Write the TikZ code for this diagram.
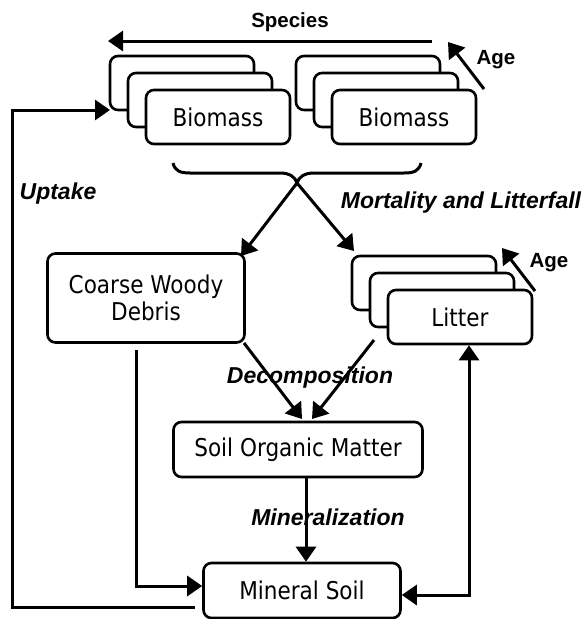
\documentclass[tikz,border=0pt]{standalone}
\usepackage{fontspec}
\setmainfont{DejaVu Sans}
\newfontfamily\labfont{Liberation Sans}
\usetikzlibrary{arrows.meta}
\newcommand{\bx}[1]{\scalebox{0.88}[1]{#1}}
\begin{document}
\begin{tikzpicture}[x=1pt,y=-1pt,
  box/.style={draw, line width=2.6pt, rounded corners=8pt, fill=white,
    minimum width=144pt, minimum height=54pt, inner sep=0pt, align=center,
    font=\fontsize{24.5}{27}\selectfont},
  arr/.style={line width=3pt, -{Triangle[length=15pt,width=20pt]}},
  darr/.style={line width=3pt, {Triangle[length=15pt,width=20pt]}-{Triangle[length=15pt,width=20pt]}},
  lab/.style={font=\labfont\bfseries\itshape\fontsize{23}{26}\selectfont, inner sep=0pt},
  hdr/.style={font=\labfont\bfseries\fontsize{20.5}{24}\selectfont, inner sep=0pt}]
\useasboundingbox (0,0) rectangle (586,619);

% labels (drawn first so arrows pass over them)
\node[hdr] (species) at (290,22) {Species};
\node[hdr] (age1) at (496,60) {Age};
\node[lab] (uptake) at (58,194) {Uptake};
\node[lab] (mort) at (461,203) {Mortality and Litterfall};
\node[hdr] (age2) at (549,263) {Age};
\node[lab] (decomp) at (310,378) {Decomposition};
\node[lab] (miner) at (328,517) {Mineralization};

% biomass stacks
\node[box] (lb3) at (182,83) {};
\node[box] (lb2) at (200,100) {};
\node[box] (lb1) at (218,117) {\bx{Biomass}};
\node[box] (rb3) at (368,83) {};
\node[box] (rb2) at (386,100) {};
\node[box] (rb1) at (404,117) {\bx{Biomass}};

% litter stack
\node[box] (lt3) at (424,283) {};
\node[box] (lt2) at (442,300) {};
\node[box] (lt1) at (460,317) {\bx{Litter}};

% other pools
\node[box, minimum width=197pt, minimum height=89pt] (cwd) at (146,298)
  {\bx{Coarse Woody}\\\bx{Debris}};
\node[box, minimum width=249pt, minimum height=55pt] (som) at (298,449.5)
  {\bx{Soil Organic Matter}};
\node[box, minimum width=197pt, minimum height=55pt] (ms) at (302,590.5)
  {\bx{Mineral Soil}};

% brace under biomass
\coordinate (tip) at (297,183);
\draw[line width=3pt] (173,163) .. controls (175,171) and (180,173) .. (190,173)
  -- (280,173) .. controls (290,173) and (295,177) .. (tip)
  .. controls (299,177) and (304,173) .. (314,173)
  -- (404,173) .. controls (414,173) and (419,171) .. (421,163);

% species and age arrows
\coordinate (sp0) at (432,41);
\coordinate (sp1) at (108,41);
\draw[arr] (sp0) -- (sp1);
\coordinate (a10) at (484,89);
\coordinate (a11) at (448,42);
\draw[arr] (a10) -- (a11);
\coordinate (a20) at (535,291);
\coordinate (a21) at (502,248);
\draw[arr] (a20) -- (a21);

% mortality and litterfall
\coordinate (cwdin) at (241,256);
\coordinate (ltin) at (354,251);
\draw[arr] (tip) -- (cwdin);
\draw[arr] (tip) -- (ltin);

% decomposition
\coordinate (cwdout) at (244,343);
\coordinate (ltout) at (374,340);
\coordinate (somin1) at (302,419);
\coordinate (somin2) at (312,419);
\draw[arr] (cwdout) -- (somin1);
\draw[arr] (ltout) -- (somin2);

% mineralization
\draw[arr] (som.south -| 306,0) -- (ms.north -| 306,0);

% coarse woody debris to mineral soil
\draw[arr] (cwd.south -| 136,0) ++(0,6) |- (ms.west |- 0,586);

% mineral soil <-> litter
\draw[darr] (ms.east |- 0,595) -| (lt1.south -| 469,0);

% uptake loop
\coordinate (u0) at (195,607);
\coordinate (u1) at (110,110);
\draw[arr] (u0) -| (12,110) -- (u1);
\end{tikzpicture}
\end{document}
